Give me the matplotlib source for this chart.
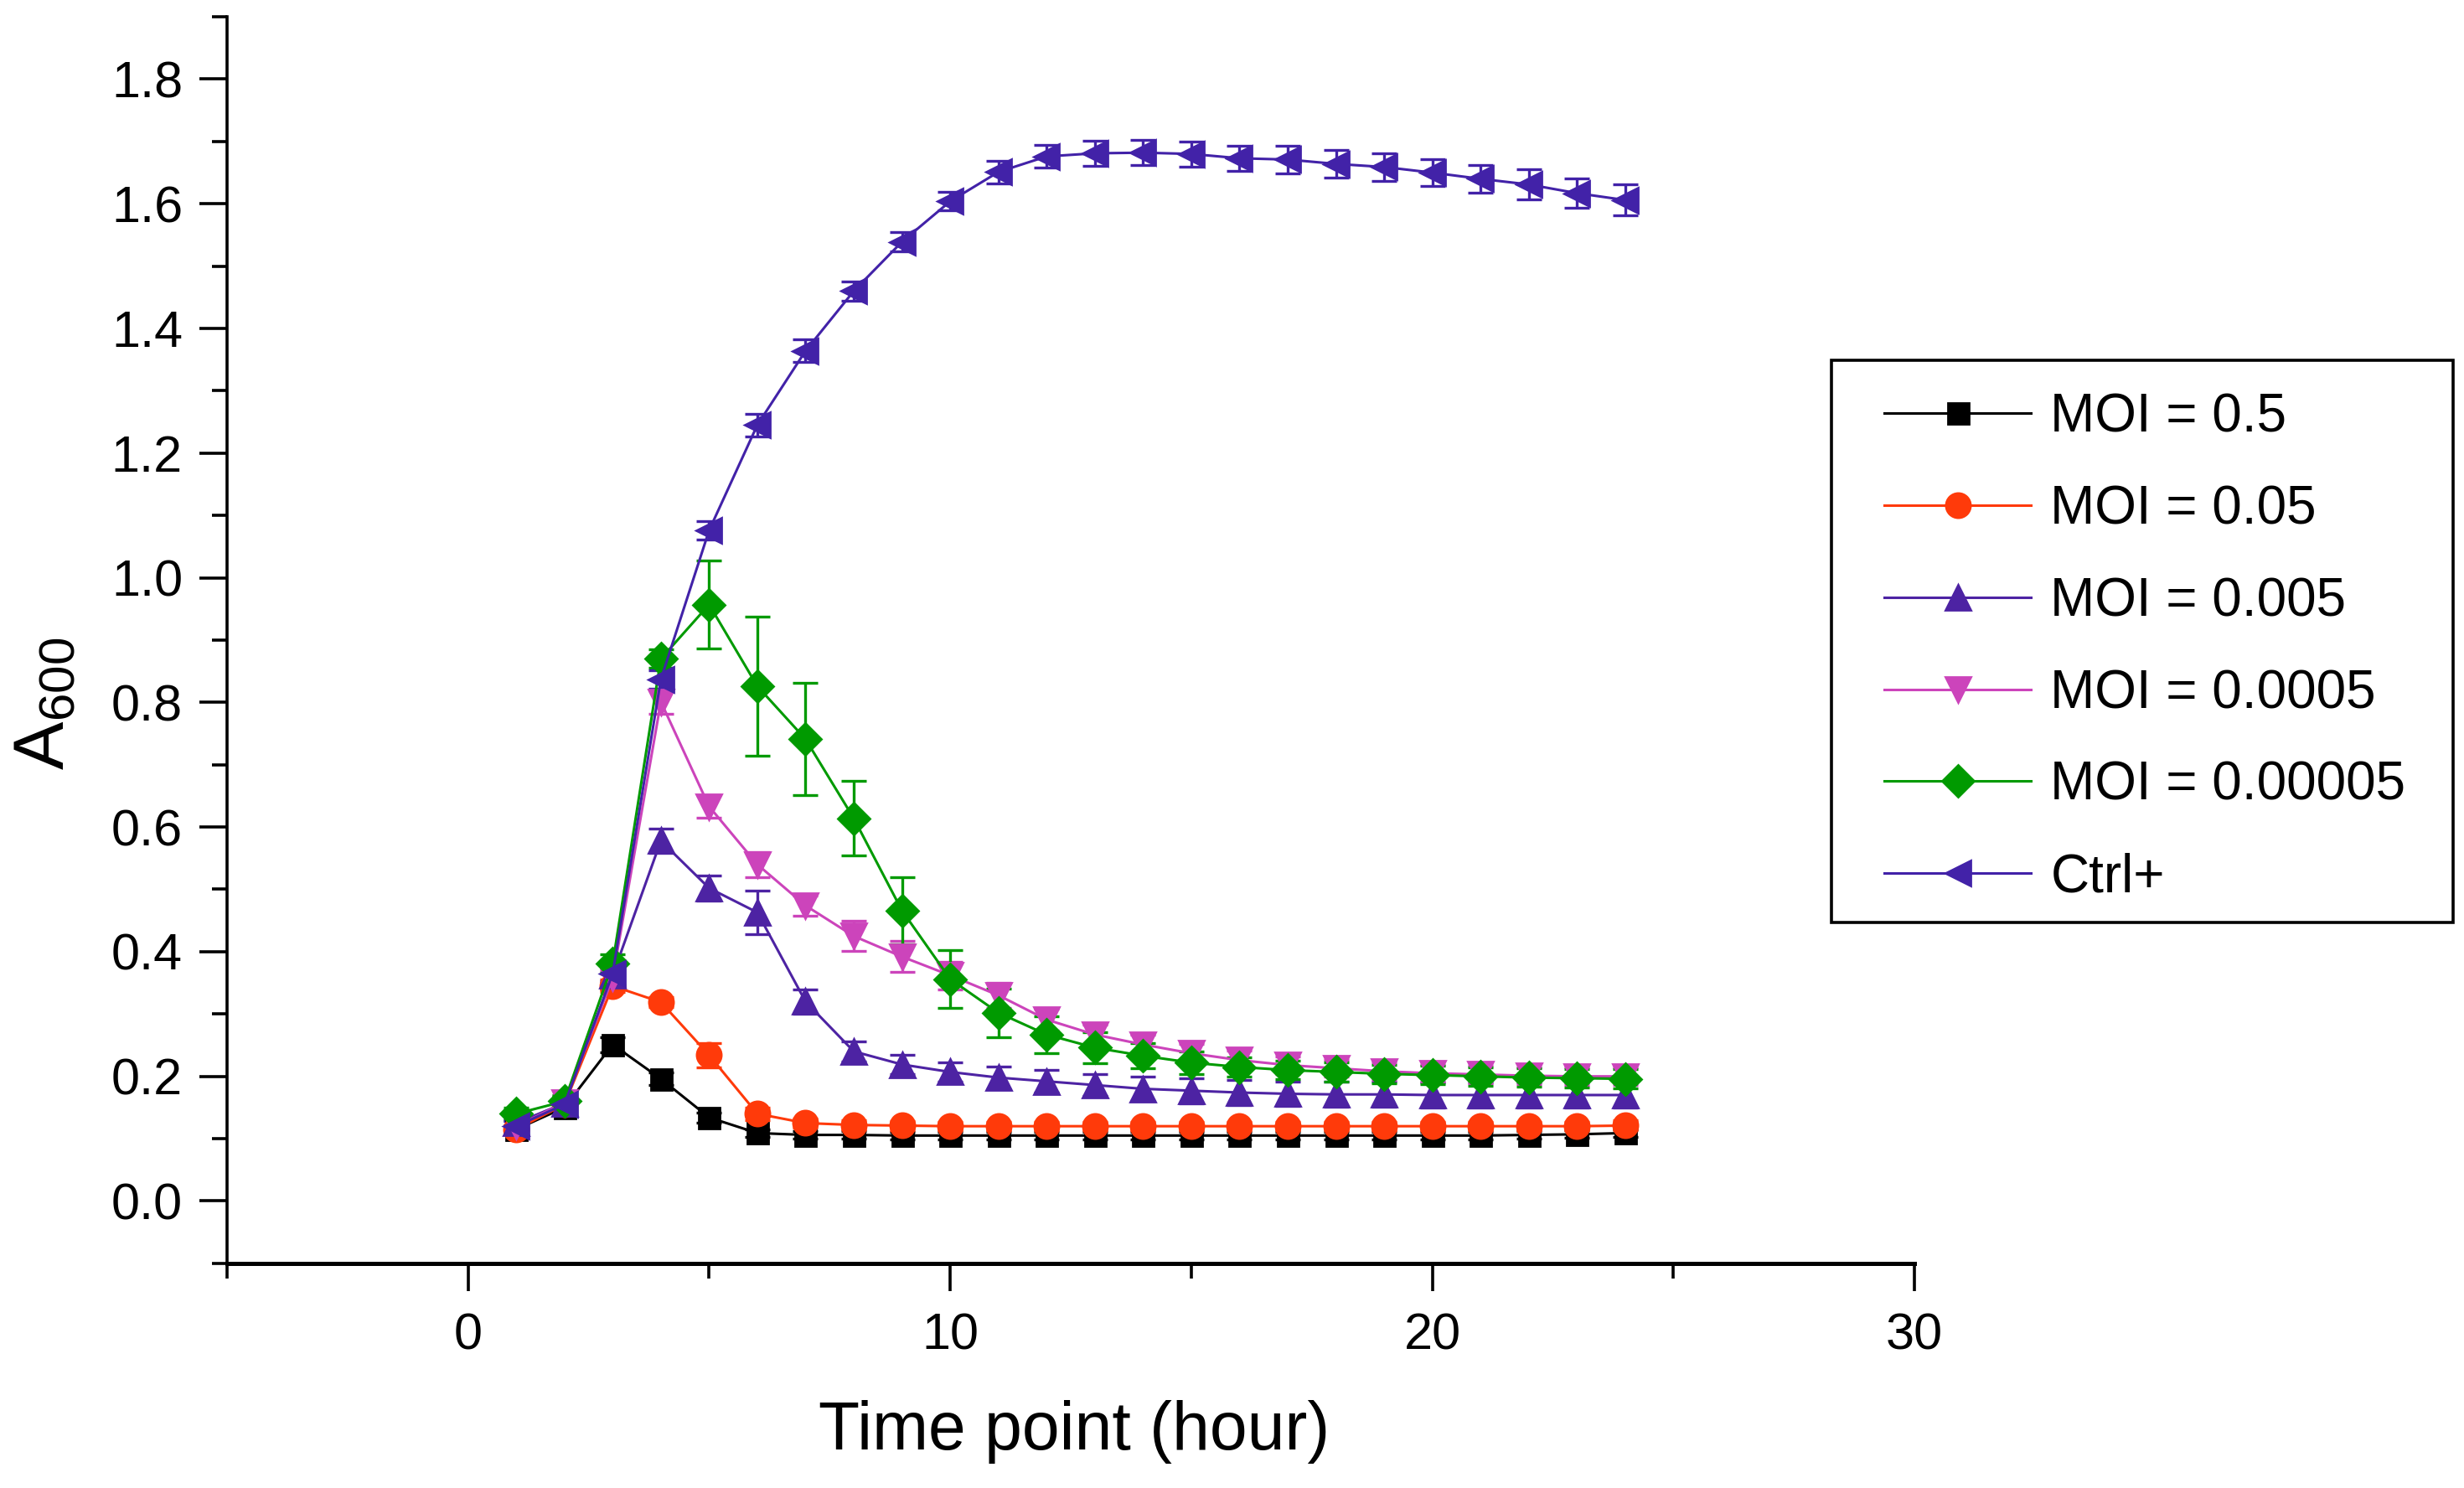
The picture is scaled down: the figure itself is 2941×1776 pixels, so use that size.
"""A600 growth curves of the host culture infected at different MOI values."""

import matplotlib

matplotlib.use("Agg")
import matplotlib.pyplot as plt
from matplotlib.patches import Rectangle
from matplotlib.ticker import FormatStrFormatter, MultipleLocator

plt.rcParams["font.family"] = ["Liberation Sans", "DejaVu Sans"]
plt.rcParams["mathtext.default"] = "regular"

hours = list(range(1, 25))

labels = ["MOI = 0.5", "MOI = 0.05", "MOI = 0.005", "MOI = 0.0005", "MOI = 0.00005", "Ctrl+"]

moi_05 = [0.115, 0.150, 0.251, 0.196, 0.134, 0.109, 0.106, 0.106, 0.105, 0.105, 0.105, 0.105,
          0.105, 0.105, 0.105, 0.105, 0.105, 0.105, 0.105, 0.105, 0.105, 0.106, 0.107, 0.109]
moi_05_err = [0.006, 0.006, 0.012, 0.010, 0.008, 0.006, 0.006, 0.006, 0.006, 0.006, 0.006, 0.006,
              0.006, 0.006, 0.006, 0.006, 0.006, 0.006, 0.006, 0.006, 0.006, 0.006, 0.006, 0.006]

moi_005 = [0.115, 0.155, 0.345, 0.319, 0.234, 0.140, 0.125, 0.122, 0.121, 0.120, 0.120, 0.120,
           0.120, 0.120, 0.120, 0.120, 0.120, 0.120, 0.120, 0.120, 0.120, 0.120, 0.120, 0.121]
moi_005_err = [0.006, 0.006, 0.010, 0.008, 0.019, 0.010, 0.007, 0.007, 0.007, 0.007, 0.007, 0.007,
               0.007, 0.007, 0.007, 0.007, 0.007, 0.007, 0.007, 0.007, 0.007, 0.007, 0.007, 0.008]

moi_0005 = [0.125, 0.157, 0.362, 0.578, 0.502, 0.463, 0.320, 0.240, 0.219, 0.207, 0.198, 0.192,
            0.186, 0.180, 0.177, 0.174, 0.172, 0.171, 0.171, 0.170, 0.170, 0.170, 0.170, 0.170]
moi_0005_err = [0.008, 0.010, 0.012, 0.020, 0.020, 0.035, 0.020, 0.016, 0.016, 0.016, 0.018, 0.018,
                0.018, 0.020, 0.020, 0.020, 0.020, 0.020, 0.020, 0.020, 0.020, 0.020, 0.020, 0.020]

moi_00005 = [0.120, 0.158, 0.358, 0.801, 0.633, 0.540, 0.474, 0.425, 0.392, 0.362, 0.330, 0.291,
             0.267, 0.251, 0.237, 0.226, 0.218, 0.213, 0.208, 0.205, 0.203, 0.201, 0.200, 0.200]
moi_00005_err = [0.008, 0.010, 0.012, 0.020, 0.018, 0.020, 0.016, 0.024, 0.025, 0.022, 0.020, 0.018,
                 0.016, 0.016, 0.015, 0.015, 0.014, 0.014, 0.014, 0.014, 0.014, 0.014, 0.014, 0.014]

moi_000005 = [0.140, 0.160, 0.381, 0.870, 0.957, 0.826, 0.741, 0.614, 0.466, 0.356, 0.302, 0.267,
              0.246, 0.233, 0.222, 0.215, 0.210, 0.207, 0.204, 0.202, 0.200, 0.198, 0.197, 0.196]
moi_000005_err = [0.010, 0.010, 0.015, 0.015, 0.070, 0.112, 0.090, 0.060, 0.054, 0.046, 0.039, 0.030,
                  0.025, 0.020, 0.018, 0.015, 0.015, 0.015, 0.015, 0.015, 0.015, 0.015, 0.015, 0.015]

ctrl = [0.120, 0.155, 0.365, 0.837, 1.076, 1.245, 1.364, 1.460, 1.539, 1.604, 1.651, 1.676,
        1.681, 1.682, 1.680, 1.673, 1.671, 1.664, 1.659, 1.650, 1.640, 1.631, 1.617, 1.606]
ctrl_err = [0.008, 0.010, 0.012, 0.015, 0.015, 0.018, 0.018, 0.015, 0.015, 0.015, 0.018, 0.018,
            0.020, 0.020, 0.020, 0.020, 0.022, 0.022, 0.022, 0.022, 0.022, 0.024, 0.024, 0.025]

series = [moi_05, moi_005, moi_0005, moi_00005, moi_000005, ctrl]
errors = [moi_05_err, moi_005_err, moi_0005_err, moi_00005_err, moi_000005_err, ctrl_err]
colors = ["#000000", "#ff3a0a", "#4d23a3", "#cc44bb", "#009a00", "#4222a8"]
markers = ["s", "o", "^", "v", "D", "<"]
marker_sizes = [9, 10.5, 11, 11, 9.5, 11]

fig = plt.figure(figsize=(14.705, 8.88), dpi=200)
ax = fig.add_axes([0.0921, 0.151, 0.6849, 0.8377])

line_handles = []
for values, err, color, marker, size, label in zip(series, errors, colors, markers, marker_sizes, labels):
    container = ax.errorbar(
        hours, values, yerr=err, color=color, marker=marker, markersize=size, linewidth=1.1,
        elinewidth=1.2, capsize=5.5, capthick=1.2, label=label,
    )
    # legend shows only line + marker, no error bar glyph
    line_handles.append(container[0])

ax.set_xlim(-5, 30)
ax.set_ylim(-0.1, 1.9)
ax.xaxis.set_major_locator(MultipleLocator(10))
ax.xaxis.set_minor_locator(MultipleLocator(5))
ax.yaxis.set_major_locator(MultipleLocator(0.2))
ax.yaxis.set_minor_locator(MultipleLocator(0.1))
ax.yaxis.set_major_formatter(FormatStrFormatter("%.1f"))

for side in ("top", "right"):
    ax.spines[side].set_visible(False)
ax.spines["left"].set_linewidth(1.3)
ax.spines["bottom"].set_linewidth(1.8)
ax.tick_params(which="major", direction="out", length=12, width=1.3, labelsize=22, pad=7)
ax.tick_params(which="minor", direction="out", length=6.5, width=1.3)
ax.tick_params(axis="x", which="major", pad=9)

ax.set_xlabel("Time point (hour)", fontsize=29)
ax.xaxis.set_label_coords(0.502, -0.11)
ax.set_ylabel("A$_{600}$", fontsize=31)
ax.yaxis.set_label_coords(-0.088, 0.449)

# legend box drawn separately so its padding can differ horizontally and vertically
fig.add_artist(Rectangle((0.7433, 0.3801), 0.2523, 0.3778, transform=fig.transFigure,
                         facecolor="white", edgecolor="black", linewidth=1.3, zorder=4))
fig.legend(
    line_handles, labels, loc="upper left", bbox_to_anchor=(0.7646, 0.7362), borderaxespad=0,
    borderpad=0, fontsize=23, frameon=False, labelspacing=0.78, handlelength=2.75,
    handletextpad=0.36,
)

fig.savefig("out.png", dpi=200)
plt.close(fig)
